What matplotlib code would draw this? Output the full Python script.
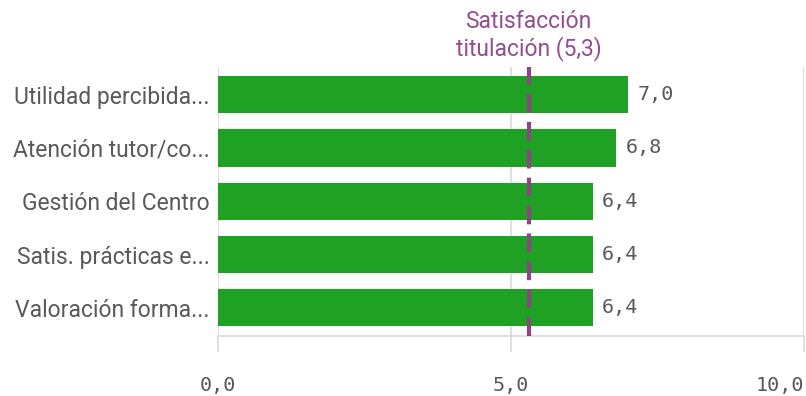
import matplotlib
matplotlib.use("Agg")
import matplotlib.pyplot as plt
from matplotlib.ticker import FixedLocator

categories = [
    "Utilidad percibida...",
    "Atención tutor/co...",
    "Gestión del Centro",
    "Satis. prácticas e...",
    "Valoración forma...",
]
values = [7.0, 6.8, 6.4, 6.4, 6.4]
reference_value = 5.3
reference_label = "Satisfacción\ntitulación (5,3)"
x_ticks = [0.0, 5.0, 10.0]
x_tick_labels = ["0,0", "5,0", "10,0"]

BAR = "#1fa223"
TEXT = "#595959"
GRID = "#d9d9d9"
REF = "#8e4585"
REF_TEXT = "#944d8f"
LABEL_FONT = ["Roboto", "DejaVu Sans"]
NUM_FONT = ["DejaVu Sans Mono"]

fig = plt.figure(figsize=(8.06, 3.96), dpi=100)
ax = fig.add_axes([218 / 806, 1 - 336 / 396, (804 - 218) / 806, (336 - 67) / 396])

ypos = list(range(len(categories)))
ax.barh(ypos, values, height=0.7, color=BAR, zorder=3)

ax.set_xlim(0, 10)
ax.set_ylim(len(categories) - 1 + 0.53, -0.52)

for s in ["top", "right", "left"]:
    ax.spines[s].set_visible(False)
ax.spines["bottom"].set_color(GRID)
ax.spines["bottom"].set_linewidth(1.2)

ax.xaxis.set_major_locator(FixedLocator(x_ticks))
ax.set_xticklabels(x_tick_labels, family=NUM_FONT, fontsize=14.5, color=TEXT)
ax.get_xticklabels()[-1].set_horizontalalignment("right")
ax.tick_params(axis="x", length=11.5, width=1.2, color=GRID, pad=17)
ax.grid(axis="x", color=GRID, linewidth=1.2, zorder=0)

ax.set_yticks(ypos)
ax.set_yticklabels(categories, family=LABEL_FONT, fontsize=16.5, color=TEXT)
ax.tick_params(axis="y", length=0, pad=6)

for y, v in zip(ypos, values):
    ax.annotate(f"{v:.1f}".replace(".", ","), (v, y), xytext=(6.5, 0),
                textcoords="offset points", va="center", ha="left",
                family=NUM_FONT, fontsize=14.5, color=TEXT)

ax.axvline(reference_value, color=REF, linewidth=3, dashes=(4.5, 2.2), zorder=4)
ax.annotate(reference_label, (reference_value, 1.0), xycoords=("data", "axes fraction"),
            xytext=(0, 4.5), textcoords="offset points", ha="center", va="bottom",
            family=LABEL_FONT, fontsize=16.5, color=REF_TEXT, linespacing=1.15)

fig.savefig("out.png", dpi=100)
